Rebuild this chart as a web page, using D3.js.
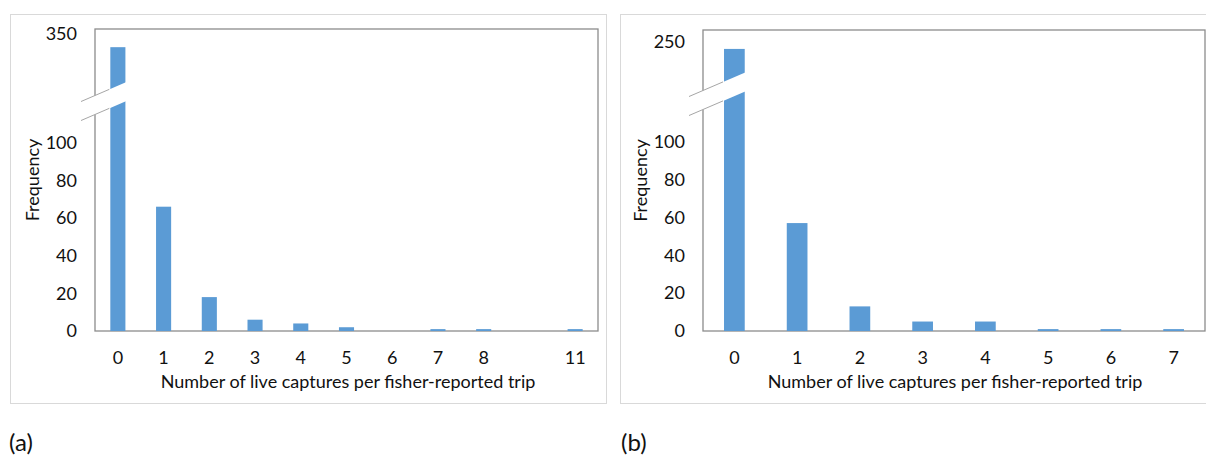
<!DOCTYPE html>
<html>
<head>
<meta charset="utf-8">
<script src="https://cdn.jsdelivr.net/npm/d3@7"></script>
<style>
  body { margin: 0; background: #fff; }
  text { font-family: Lato, "Open Sans", sans-serif; fill: #111; }
</style>
</head>
<body>
<svg id="chart" width="1206" height="456"></svg>
<script>
// panel (a) data
const catsA = ['0', '1', '2', '3', '4', '5', '6', '7', '8', '', '11'];
const countsA = [342, 66, 18, 6, 4, 2, 0, 1, 1, 0, 1];

// panel (b) data
const catsB = ['0', '1', '2', '3', '4', '5', '6', '7'];
const countsB = [246, 57, 13, 5, 5, 1, 1, 1];

// y tick labels (lower part of the broken axis, plus the one above the break)
const lowTicks = [0, 20, 40, 60, 80, 100];
const topTickA = 350;
const topTickB = 250;

const barColor = '#5b9bd5';
const fontSize = 18;
const svg = d3.select('#chart');

function drawPanel(cfg) {
  const g = svg.append('g');

  // outer chart border
  g.append('rect')
    .attr('x', cfg.box[0] + 0.5).attr('y', cfg.box[1] + 0.5)
    .attr('width', cfg.box[2]).attr('height', cfg.box[3])
    .attr('fill', 'none').attr('stroke', '#d9d9d9');

  const left = cfg.plot[0], top = cfg.plot[1], right = cfg.plot[2], bottom = cfg.plot[3];

  const x = d3.scaleBand()
    .domain(d3.range(cfg.cats.length))
    .range([left, right])
    .paddingInner(0.67)
    .paddingOuter(0.335);

  // broken scale: lower part, then jump to upper part
  const y = d3.scaleLinear()
    .domain([0, cfg.lowTop, cfg.upper[0], cfg.upper[1]])
    .range([bottom, cfg.yBreak, cfg.yBreak, top]);

  // plot area frame
  g.append('rect')
    .attr('x', left).attr('y', top)
    .attr('width', right - left).attr('height', bottom - top)
    .attr('fill', 'none').attr('stroke', '#8c8c8c').attr('stroke-width', 1.3);

  g.selectAll('.bar')
    .data(cfg.counts)
    .join('rect')
    .attr('class', 'bar')
    .attr('x', (d, i) => x(i))
    .attr('width', x.bandwidth())
    .attr('y', d => y(d))
    .attr('height', d => bottom - y(d))
    .attr('fill', barColor);

  // axis break: white slanted band with two gray lines
  const slope = -0.43, half = 9.5;
  const bx0 = left - 16, bx1 = x(0) + x.bandwidth() + 1;
  const yAt = (xx, off) => cfg.yBreak + off + slope * (xx - left);
  g.append('path')
    .attr('d', `M${bx0},${yAt(bx0, -half)}L${bx1},${yAt(bx1, -half)}L${bx1},${yAt(bx1, half)}L${bx0},${yAt(bx0, half)}Z`)
    .attr('fill', '#fff');
  const lx0 = left - 14, lx1 = x(0) - 1;
  [-half, half].forEach(off => {
    g.append('line')
      .attr('x1', lx0).attr('y1', yAt(lx0, off))
      .attr('x2', lx1).attr('y2', yAt(lx1, off))
      .attr('stroke', '#a6a6a6').attr('stroke-width', 1);
  });

  // y axis labels
  const yAxis = g.append('g')
    .attr('transform', `translate(${left},0)`)
    .call(d3.axisLeft(y).tickValues(lowTicks.concat([cfg.topTick])).tickSize(0).tickPadding(18).tickFormat(d3.format('d')));
  yAxis.select('.domain').remove();
  yAxis.selectAll('text').attr('font-size', fontSize).style('font-family', 'Lato, sans-serif').attr('fill', '#111');

  // x axis labels
  const xAxis = g.append('g')
    .attr('transform', `translate(0,${bottom})`)
    .call(d3.axisBottom(x).tickSize(0).tickPadding(20).tickFormat(i => cfg.cats[i]));
  xAxis.select('.domain').remove();
  xAxis.selectAll('text').attr('font-size', fontSize).style('font-family', 'Lato, sans-serif').attr('fill', '#111');

  // axis titles
  g.append('text')
    .attr('transform', `translate(${cfg.yTitleX},${(top + bottom) / 2}) rotate(-90)`)
    .attr('text-anchor', 'middle')
    .attr('font-size', fontSize)
    .text('Frequency');

  g.append('text')
    .attr('x', cfg.xTitleX).attr('y', 388)
    .attr('text-anchor', 'middle')
    .attr('font-size', fontSize)
    .text('Number of live captures per fisher-reported trip');

  // panel caption
  g.append('text')
    .attr('x', cfg.captionX).attr('y', 451)
    .attr('font-size', 24)
    .text(cfg.caption);
}

drawPanel({
  cats: catsA, counts: countsA, topTick: topTickA,
  box: [10, 14, 596, 389],
  plot: [95, 29, 598, 331],
  lowTop: 120, upper: [307, 353], yBreak: 105,
  yTitleX: 39, xTitleX: 348, captionX: 9, caption: '(a)'
});

drawPanel({
  cats: catsB, counts: countsB, topTick: topTickB,
  box: [620, 14, 600, 389],
  plot: [703, 30, 1205, 331],
  lowTop: 122, upper: [219, 256], yBreak: 100,
  yTitleX: 647, xTitleX: 955, captionX: 621, caption: '(b)'
});
</script>
</body>
</html>
